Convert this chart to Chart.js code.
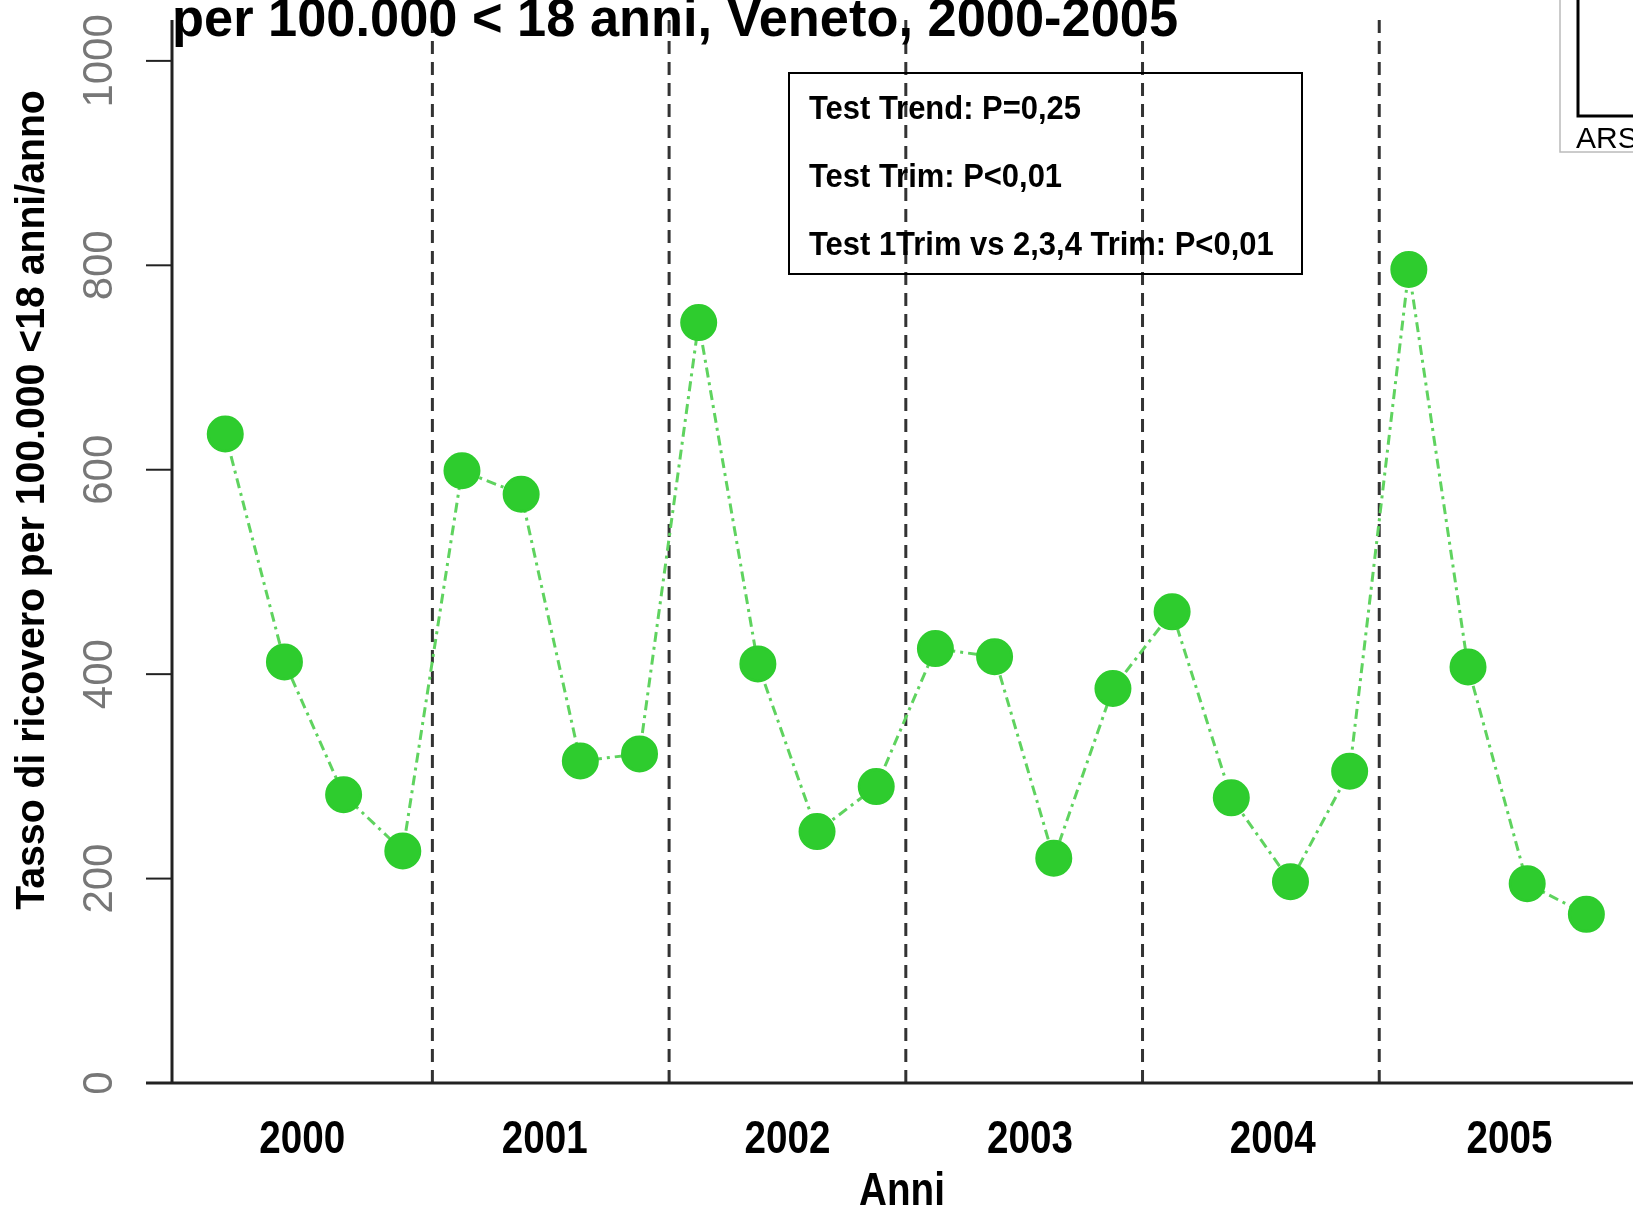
<!DOCTYPE html>
<html><head><meta charset="utf-8">
<script src="https://cdn.jsdelivr.net/npm/chart.js@4"></script>
<style>html,body{margin:0;padding:0;background:#fff;}canvas{display:block;}</style>
</head><body>
<canvas id="c" width="1633" height="1211"></canvas>
<script>
const quarters = Array.from({length: 24}, (_, i) => i);
const tassi = [635, 412, 282, 227, 599, 576, 315, 322, 744, 410, 246, 290,
               425, 417, 220, 386, 461, 279, 197, 305, 796, 407, 195, 165];
const anni = ['2000', '2001', '2002', '2003', '2004', '2005'];
const anniPos = [1.3, 5.4, 9.5, 13.6, 17.7, 21.7];
const yTicks = [0, 200, 400, 600, 800, 1000];
const separatori = [3.5, 7.5, 11.5, 15.5, 19.5];
const testi = ['Test Trend: P=0,25', 'Test Trim: P<0,01', 'Test 1Trim vs 2,3,4 Trim: P<0,01'];

// testo stretto: scala orizzontale
function narrowText(ctx, t, x, y, size, sx, align) {
    ctx.save();
    ctx.font = 'bold ' + size + 'px "Liberation Sans", sans-serif';
    ctx.translate(x, y);
    ctx.scale(sx, 1);
    ctx.textAlign = align;
    ctx.fillText(t, 0, 0);
    ctx.restore();
}

const decor = {
    id: 'decor',
    beforeDatasetsDraw(chart) {
        const ctx = chart.ctx;
        const x = chart.scales.x, y = chart.scales.y;
        const a = chart.chartArea;
        ctx.save();
        ctx.strokeStyle = '#333';
        ctx.lineWidth = 3;
        ctx.setLineDash([13, 8]);
        separatori.forEach(s => {
            const px = x.getPixelForValue(s);
            ctx.beginPath(); ctx.moveTo(px, a.top); ctx.lineTo(px, a.bottom); ctx.stroke();
        });
        ctx.setLineDash([]);
        ctx.strokeStyle = '#222';
        ctx.beginPath(); ctx.moveTo(a.left, a.top); ctx.lineTo(a.left, a.bottom); ctx.stroke();
        ctx.beginPath(); ctx.moveTo(146, a.bottom); ctx.lineTo(1633, a.bottom); ctx.stroke();
        ctx.lineWidth = 2;
        ctx.fillStyle = '#777';
        ctx.font = '42px "Liberation Sans", sans-serif';
        ctx.textAlign = 'center';
        ctx.textBaseline = 'middle';
        yTicks.forEach(v => {
            const py = y.getPixelForValue(v);
            ctx.beginPath(); ctx.moveTo(146, py); ctx.lineTo(a.left, py); ctx.stroke();
            ctx.save();
            ctx.translate(100, py);
            ctx.rotate(-Math.PI / 2);
            ctx.fillText(String(v), 0, 0);
            ctx.restore();
        });
        ctx.fillStyle = '#000';
        ctx.textBaseline = 'alphabetic';
        anni.forEach((t, i) => narrowText(ctx, t, x.getPixelForValue(anniPos[i]), 1153, 46, 0.84, 'center'));
        narrowText(ctx, 'Anni', 902, 1205, 46, 0.84, 'center');
        ctx.save();
        ctx.translate(44, 500);
        ctx.rotate(-Math.PI / 2);
        narrowText(ctx, 'Tasso di ricovero per 100.000 <18 anni/anno', 0, 0, 40, 0.98, 'center');
        ctx.restore();
        narrowText(ctx, 'per 100.000 < 18 anni, Veneto, 2000-2005', 172, 36, 54, 0.97, 'left');
        ctx.lineWidth = 2;
        ctx.strokeStyle = '#000';
        ctx.strokeRect(789, 73, 513, 201);
        testi.forEach((t, i) => narrowText(ctx, t, 809, 119 + i * 68, 34, 0.91, 'left'));
        ctx.strokeStyle = '#bbb';
        ctx.lineWidth = 1.5;
        ctx.strokeRect(1560, -5, 100, 157);
        ctx.strokeStyle = '#000';
        ctx.lineWidth = 3;
        ctx.strokeRect(1578, -5, 100, 121);
        ctx.font = '30px "Liberation Sans", sans-serif';
        ctx.textAlign = 'left';
        ctx.fillText('ARS', 1576, 148);
        ctx.restore();
    }
};

new Chart(document.getElementById('c'), {
    type: 'line',
    data: {
        datasets: [{
            data: quarters.map((q, i) => ({x: q, y: tassi[i]})),
            borderColor: '#5fd35f',
            borderWidth: 3,
            borderDash: [10, 5, 3, 5],
            pointRadius: 17,
            pointBackgroundColor: '#2ecc2e',
            pointBorderColor: '#2ecc2e',
            tension: 0,
            clip: false
        }]
    },
    options: {
        responsive: false,
        animation: false,
        layout: {padding: {left: 172, right: 0, top: 14, bottom: 128}},
        plugins: {legend: {display: false}, tooltip: {enabled: false}},
        scales: {
            x: {type: 'linear', min: -0.9, max: 23.45, display: false},
            y: {min: 0, max: 1040, display: false}
        }
    },
    plugins: [decor]
});
</script>
</body></html>
